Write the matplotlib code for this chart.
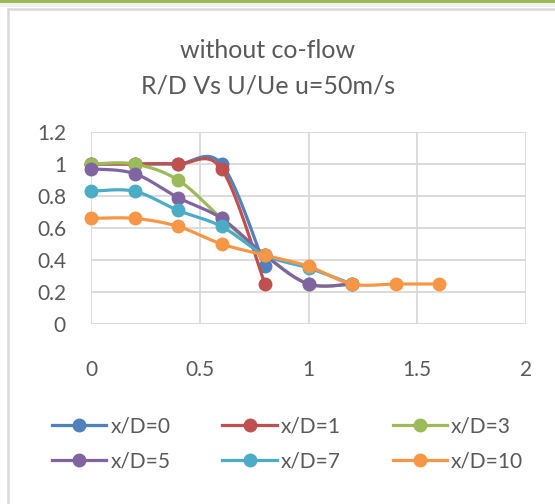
import numpy as np
import matplotlib
matplotlib.use("Agg")
import matplotlib.pyplot as plt
from matplotlib.lines import Line2D
from matplotlib.patches import Rectangle

plt.rcParams['font.family'] = ['Lato', 'DejaVu Sans']

labels = ["x/D=0", "x/D=1", "x/D=3", "x/D=5", "x/D=7", "x/D=10"]
colors = ["#4F81BD", "#C0504D", "#9BBB59", "#8064A2", "#4BACC6", "#F79646"]
xs = [
    [0, 0.2, 0.4, 0.6, 0.8],
    [0, 0.2, 0.4, 0.6, 0.8],
    [0, 0.2, 0.4, 0.6, 0.8, 1.0, 1.2],
    [0, 0.2, 0.4, 0.6, 0.8, 1.0, 1.2],
    [0, 0.2, 0.4, 0.6, 0.8, 1.0, 1.2],
    [0, 0.2, 0.4, 0.6, 0.8, 1.0, 1.2, 1.4, 1.6],
]
ys = [
    [1.0, 1.0, 1.0, 1.0, 0.36],
    [1.0, 1.0, 1.0, 0.97, 0.25],
    [1.0, 1.0, 0.90, 0.66, 0.43, 0.25, 0.25],
    [0.97, 0.94, 0.79, 0.66, 0.43, 0.25, 0.25],
    [0.83, 0.83, 0.71, 0.61, 0.43, 0.35, 0.25],
    [0.66, 0.66, 0.61, 0.50, 0.43, 0.36, 0.25, 0.25, 0.25],
]


def smooth(x, y, n=30):
    x = np.asarray(x, float)
    y = np.asarray(y, float)
    P = np.column_stack([x, y])
    out = [P[0]]
    m = len(P)
    for i in range(m - 1):
        p0 = P[i - 1] if i > 0 else P[i]
        p1 = P[i]
        p2 = P[i + 1]
        p3 = P[i + 2] if i + 2 < m else P[i + 1]
        c1 = p1 + (p2 - p0) / 6.0
        c2 = p2 - (p3 - p1) / 6.0
        t = np.linspace(0, 1, n)[1:, None]
        seg = ((1 - t) ** 3) * p1 + 3 * ((1 - t) ** 2) * t * c1 + 3 * (1 - t) * t ** 2 * c2 + t ** 3 * p2
        out.extend(seg)
    out = np.array(out)
    return out[:, 0], out[:, 1]


fig = plt.figure(figsize=(5.55, 5.04), dpi=100)
fig.patch.set_facecolor("white")
# frame decorations
fig.add_artist(Rectangle((0, 1 - 7 / 504), 1, 7 / 504, transform=fig.transFigure,
                         facecolor="#F0F0F0", edgecolor="none", zorder=0))
fig.add_artist(Rectangle((0, 1 - 2.5 / 504), 1, 2.5 / 504, transform=fig.transFigure,
                         facecolor="#9BBB59", edgecolor="none", zorder=1))
fig.add_artist(Line2D([7.5 / 555, 1], [1 - 8.5 / 504, 1 - 8.5 / 504], transform=fig.transFigure,
                      color="#D9D9D9", lw=1.8))
fig.add_artist(Line2D([7.5 / 555, 7.5 / 555], [0, 1 - 8.5 / 504], transform=fig.transFigure,
                      color="#D9D9D9", lw=1.8))

ax = fig.add_axes([91 / 555, 1 - 324 / 504, (526 - 91) / 555, (324 - 132) / 504])
ax.set_xlim(0, 2)
ax.set_ylim(0, 1.2)
ax.set_xticks([0, 0.5, 1, 1.5, 2])
ax.set_xticklabels(["0", "0.5", "1", "1.5", "2"])
ax.set_yticks([0, 0.2, 0.4, 0.6, 0.8, 1.0, 1.2])
ax.set_yticklabels(["0", "0.2", "0.4", "0.6", "0.8", "1", "1.2"])
ax.grid(True, color="#D9D9D9", lw=1.3)
ax.set_axisbelow(True)
for s in ax.spines.values():
    s.set_visible(False)
ax.tick_params(length=0, labelsize=15, labelcolor="#595959")
ax.tick_params(axis="x", pad=26)
ax.tick_params(axis="y", pad=18)

handles = []
for i, (x, y, c, lab) in enumerate(zip(xs, ys, colors, labels)):
    sx, sy = smooth(x, y)
    ax.plot(sx, sy, color=c, lw=2.3, zorder=3 + 2 * i, solid_capstyle="round", clip_on=False)
    ax.plot(x, y, linestyle="none", marker="o", ms=9, color=c, zorder=4 + 2 * i, clip_on=False)
    handles.append(Line2D([], [], color=c, lw=2.3, marker="o", ms=9))

fig.text(268 / 555, 1 - 50 / 504, "without co-flow", ha="center", va="center",
         fontsize=18, color="#595959")
fig.text(268 / 555, 1 - 86 / 504, "R/D Vs U/Ue u=50m/s", ha="center", va="center",
         fontsize=18, color="#595959")

# legend is filled column by column; reorder so that rows read left to right
order = [0, 3, 1, 4, 2, 5]
leg = fig.legend(handles=[handles[k] for k in order], labels=[labels[k] for k in order],
                 ncol=3, loc="center left",
                 bbox_to_anchor=(52 / 555, 1 - 444 / 504), frameon=False, fontsize=15,
                 handlelength=2.6, columnspacing=2.5, labelspacing=0.7, handletextpad=0.2,
                 borderpad=0.0, borderaxespad=0.0)
for t in leg.get_texts():
    t.set_color("#595959")

fig.savefig("out.png", dpi=100)
